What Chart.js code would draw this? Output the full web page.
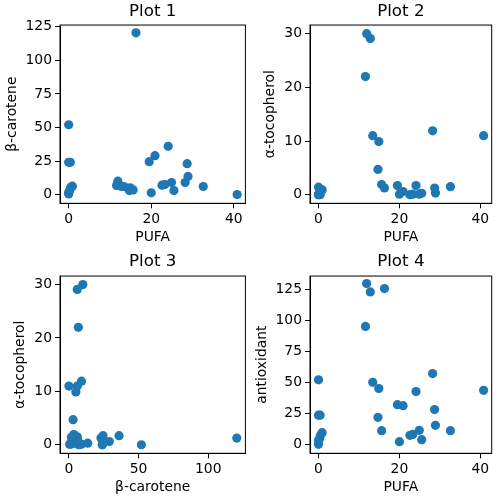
<!DOCTYPE html>
<html>
<head>
  <title>PUFA scatter</title>
  <script src="https://cdn.jsdelivr.net/npm/chart.js"></script>
  <style>
    body { margin: 0; background: white; }
    #wrap { position: relative; width: 500px; height: 500px; }
    .cell { position: absolute; width: 250px; height: 250px; }
  </style>
</head>
<body>
<div id="wrap">
  <div class="cell" style="left:0;top:0"><canvas id="c1"></canvas></div>
  <div class="cell" style="left:250px;top:0"><canvas id="c2"></canvas></div>
  <div class="cell" style="left:0;top:250px"><canvas id="c3"></canvas></div>
  <div class="cell" style="left:250px;top:250px"><canvas id="c4"></canvas></div>
</div>

<script>
// one entry per sample, same order in every array
const pufa = [11.9, 12.8, 16.3, 11.6, 13.4, 14.9, 14.7, 15.6, 19.5, 20.0,
  20.9, 22.6, 23.3, 24.1, 24.9, 25.5, 28.2, 28.7, 28.9, 32.6,
  40.8, 0, 0, 0.4, 0.9, 0.5, 0.25, 0, 0];
const betaCarotene = [10, 6, 120.5, 6.75, 6, 5, 3, 3.5, 24.5, 1.3,
  29, 7, 7.5, 36, 9, 3, 9, 23, 13.5, 6,
  0, 52, 24, 24, 6.25, 5.5, 3, 0.5, 1.75];
const alphaTocopherol = [30, 29.1, 1.25, 22, 11, 9.9, 4.7, 1.9, 1.7, 0.1,
  0.6, 0, 0.1, 1.7, 0.1, 0.25, 11.9, 1.25, 0.3, 1.5,
  11, 0, 0, 0, 0.9, 0.5, 0.4, 0.1, 1.4];
const antioxidant = [129.6, 122.8, 125.5, 95, 50, 45, 21.8, 11, 32, 2.2,
  31.2, 7.3, 8, 42.5, 11.3, 3.8, 57, 28, 15.3, 11,
  43.5, 52, 23.5, 23.5, 9.4, 7.3, 4.6, 0, 3.2];

const pufaTicks = [0, 20, 40];
const betaTicks = [0, 25, 50, 75, 100, 125];
const betaXTicks = [0, 50, 100];
const alphaTicks = [0, 10, 20, 30];
const antioxTicks = [0, 25, 50, 75, 100, 125];

const FONT = 'DejaVu Sans';

const frame = {
  id: 'frame',
  afterDraw(chart) {
    const a = chart.chartArea, ctx = chart.ctx;
    ctx.save();
    ctx.strokeStyle = '#000';
    ctx.lineWidth = 1;
    ctx.strokeRect(a.left, a.top, a.right - a.left, a.bottom - a.top);
    ctx.restore();
  }
};

function axis(range, ticks, label, isX, titlePad) {
  return {
    type: 'linear',
    min: range[0], max: range[1],
    afterBuildTicks: s => { s.ticks = ticks.map(v => ({ value: v })); },
    afterFit: s => { if (isX) s.height = 46.7; else s.width = 60; },
    grid: { drawOnChartArea: false, drawTicks: true, tickLength: 5, color: '#000' },
    border: { display: true, color: '#000', width: 1 },
    ticks: { color: '#000', padding: 3, font: { family: FONT, size: 13.9 } },
    title: { display: true, text: label, color: '#000', padding: titlePad,
             font: { family: FONT, size: 13.9 } }
  };
}

function scatter(id, title, xs, ys, x, y, padRight, titleBottom) {
  new Chart(document.getElementById(id), {
    type: 'scatter',
    data: { datasets: [{ data: xs.map((v, i) => ({ x: v, y: ys[i] })),
      backgroundColor: '#1f77b4', borderWidth: 0, pointRadius: 4.6, pointHoverRadius: 4.6 }] },
    options: {
      responsive: true, maintainAspectRatio: false, animation: false,
      layout: { padding: { left: 0, right: padRight, top: 0, bottom: 0 } },
      plugins: {
        legend: { display: false }, tooltip: { enabled: false },
        title: { display: true, text: title, color: '#000', fullSize: false,
                 font: { family: FONT, size: 16.7, weight: 'normal' },
                 padding: { top: 2, bottom: titleBottom } }
      },
      scales: { x: x, y: y }
    },
    plugins: [frame]
  });
}

scatter('c1', 'Plot 1', pufa, betaCarotene,
  axis([-2.1, 42.8], pufaTicks, 'PUFA', true, { top: 0, bottom: 4 }),
  axis([-6.5, 126.3], betaTicks, 'β-carotene', false, { top: 4, bottom: 0 }), 3.3, 3);
scatter('c2', 'Plot 2', pufa, alphaTocopherol,
  axis([-2.1, 42.8], pufaTicks, 'PUFA', true, { top: 0, bottom: 4 }),
  axis([-1.6, 31.6], alphaTicks, 'α-tocopherol', false, { top: 12, bottom: 0 }), 8.3, 3);
scatter('c3', 'Plot 3', betaCarotene, alphaTocopherol,
  axis([-6.4, 126.7], betaXTicks, 'β-carotene', true, { top: 0, bottom: 4 }),
  axis([-1.6, 31.6], alphaTicks, 'α-tocopherol', false, { top: 12, bottom: 0 }), 3.3, 4);
scatter('c4', 'Plot 4', pufa, antioxidant,
  axis([-2.1, 42.8], pufaTicks, 'PUFA', true, { top: 0, bottom: 4 }),
  axis([-7.2, 135.6], antioxTicks, 'antioxidant', false, { top: 4, bottom: 0 }), 8.3, 4);
</script>
</body>
</html>
